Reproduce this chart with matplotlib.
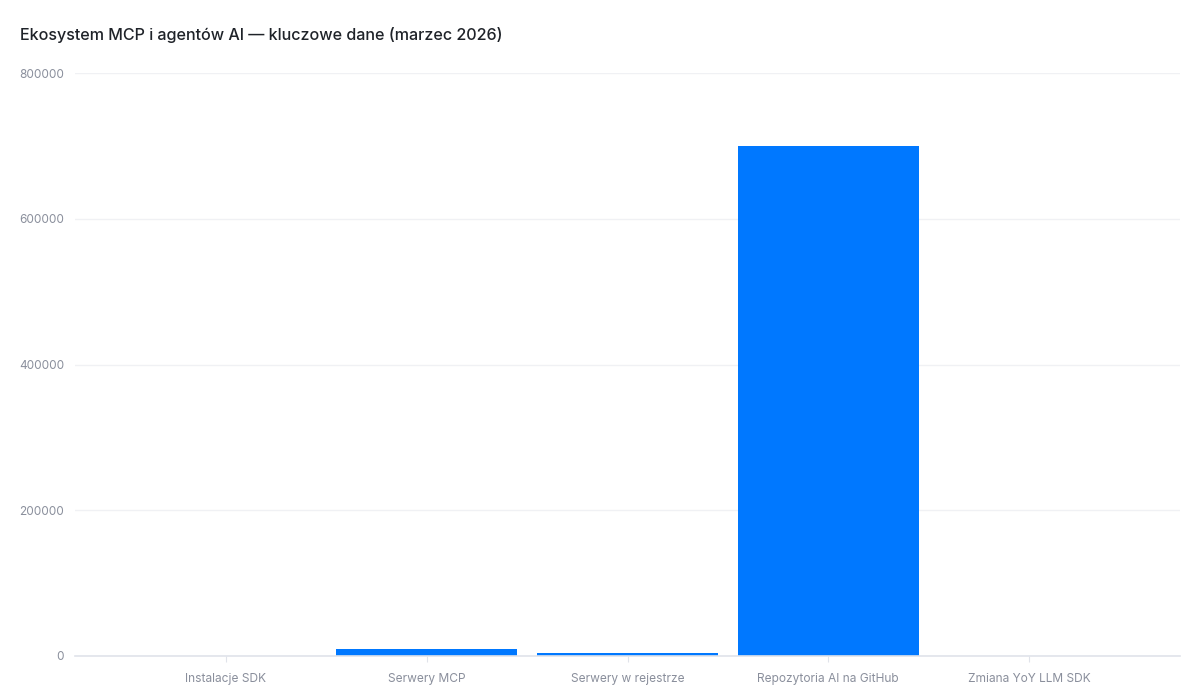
import matplotlib
matplotlib.use("Agg")
import matplotlib.pyplot as plt

categories = ["Instalacje SDK", "Serwery MCP", "Serwery w rejestrze",
              "Repozytoria AI na GitHub", "Zmiana YoY LLM SDK"]
values = [97, 10000, 4000, 700000, 340]
y_ticks = [0, 200000, 400000, 600000, 800000]

plt.rcParams['font.family'] = ['Inter', 'DejaVu Sans']

fig = plt.figure(figsize=(12, 7), dpi=100)
ax = fig.add_axes([75/1200, 1-656/700, 1105/1200, (656-73)/700])

x = list(range(len(categories)))
ax.bar(x, values, width=0.9, color="#0078FF", zorder=3)

ax.set_xlim(-0.752, 4.752)
ax.set_ylim(0, 800000)
ax.set_yticks(y_ticks)
ax.set_yticklabels([str(v) for v in y_ticks])
ax.set_xticks(x)
ax.set_xticklabels(categories)

ax.grid(axis='y', color="#f0f1f4", linewidth=1, zorder=0)
ax.grid(axis='x', visible=False)
for s in ["top", "right", "left"]:
    ax.spines[s].set_visible(False)
ax.spines["bottom"].set_color("#e0e3ea")
ax.spines["bottom"].set_linewidth(1.2)
ax.spines["bottom"].set_zorder(4)

ax.tick_params(axis='y', length=0, pad=8, labelsize=8.5, labelcolor="#8a8f9c")
ax.tick_params(axis='x', length=4, color="#e0e3ea", pad=8, labelsize=8.6, labelcolor="#8a8f9c")

fig.text(20/1200, 1-35/700, "Ekosystem MCP i agentów AI — kluczowe dane (marzec 2026)",
         fontsize=11.6, fontweight='medium', color="#1f2329", ha='left', va='center')

fig.savefig("out.png", dpi=100, facecolor="white")
